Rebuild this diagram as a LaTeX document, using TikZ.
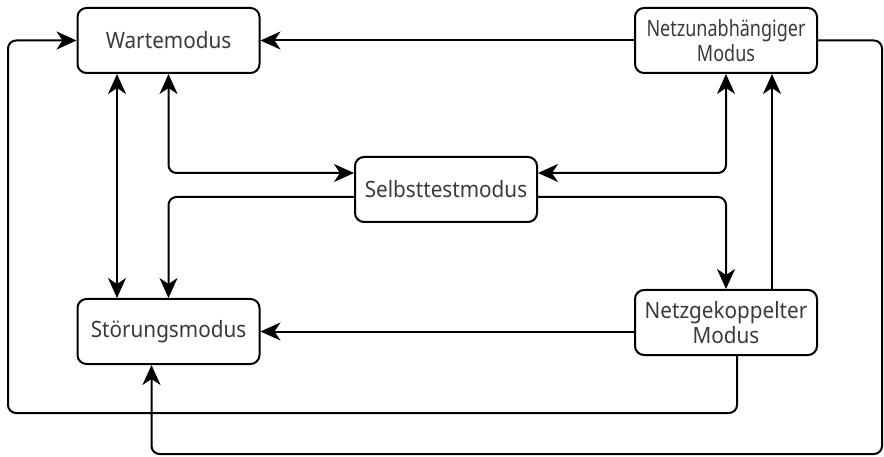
\documentclass[tikz,border=0pt]{standalone}
\usepackage{fontspec}
\setmainfont{Noto Sans}[FakeStretch=0.92]
\newfontfamily\narrowfont{Noto Sans}[FakeStretch=0.8]
\usetikzlibrary{shapes,arrows.meta,positioning}
\definecolor{txtgray}{HTML}{3A3A3A}
\tikzstyle{block} = [draw, rectangle, rounded corners=9pt, line width=2pt,
  minimum width=182pt, minimum height=65pt, align=center, text=txtgray,
  font=\fontsize{22.5}{25}\selectfont, inner xsep=2pt]
\tikzstyle{line} = [line width=2pt, rounded corners=8pt]

\begin{document}
\begin{tikzpicture}[>={Stealth[length=20pt,width=18pt,inset=6pt]}]
	\useasboundingbox (0,0) rectangle (884pt,-457pt);
	% put the modes where we want them
	\node [block] (warte) at (168.5pt,-40.5pt) {Wartemodus};
	\node [block,font=\narrowfont\fontsize{22.5}{25}\selectfont,right of=warte,node distance=557.5pt] (netzun) {Netzunabhängiger\\Modus};
	\node [block,right of=warte,node distance=277.5pt,yshift=-149pt] (selbst) {Selbsttestmodus};
	\node [block,below of=warte,node distance=291pt] (stoer) {Störungsmodus};
	\node [block,below of=netzun,node distance=282pt] (netzge) {Netzgekoppelter\\Modus};

	% corners of the outer loops
	\coordinate (c1) at (882pt,-454pt);
	\coordinate (c2) at (8pt,-413pt);

	% straight links
	\draw [line,->] (netzun) -- (warte);
	\draw [line,->] (netzge.west |- stoer.east) -- (stoer.east);
	\draw [line,->] ([xshift=46pt]netzge.north) -- ([xshift=46pt]netzun.south);
	\draw [line,<->] ([xshift=-51.5pt]warte.south) -- ([xshift=-51.5pt]stoer.north);

	% self test links
	\draw [line,<->] (warte.south) |- ([yshift=16.5pt]selbst.west);
	\draw [line,->] ([yshift=-7.5pt]selbst.west) -| (stoer.north);
	\draw [line,<->] (netzun.south) |- ([yshift=16.5pt]selbst.east);
	\draw [line,->] ([yshift=-7.5pt]selbst.east) -| (netzge.north);

	% outer loops
	\draw [line,->] (netzun.east) -| (c1) -| ([xshift=-17pt]stoer.south);
	\draw [line,->] ([xshift=11pt]netzge.south) |- (c2) |- (warte.west);

\end{tikzpicture}
\end{document}
